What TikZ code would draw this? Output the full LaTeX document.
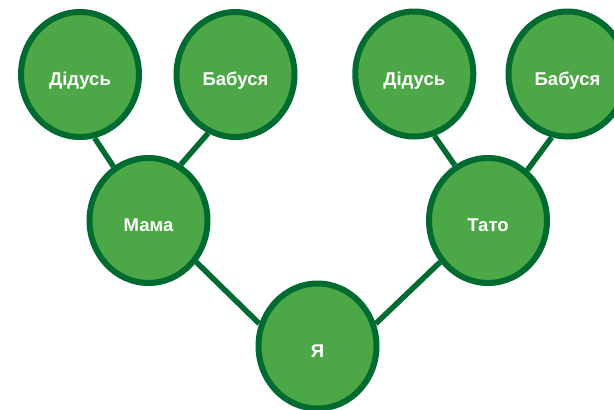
\documentclass[tikz,border=0pt]{standalone}
\usepackage{fontspec}
\setmainfont{Liberation Sans}
\usetikzlibrary{shapes.geometric}
\definecolor{leaf}{HTML}{4CA846}
\definecolor{rim}{HTML}{006B30}
\tikzset{
  person/.style={ellipse, draw=rim, fill=leaf, line width=6pt,
    minimum width=118pt, minimum height=125pt, inner sep=0pt,
    text=white, font=\bfseries\fontsize{18.5}{20}\selectfont,
    text height=22pt, text depth=0pt},
  link/.style={draw=rim, line width=5.5pt}
}
\begin{document}
\begin{tikzpicture}[x=1pt,y=-1pt]
\useasboundingbox (0,0) rectangle (614,410);
\node[person] (gpl) at (80,74.5) {Дідусь};
\node[person] (gml) at (235.5,74.5) {Бабуся};
\node[person] (mom) at (148.5,220.5) {Мама};
\node[person] (me)  at (317.5,346) {Я};
\node[person] (dad) at (488,220.5) {Тато};
\node[person] (gpr) at (414.3,74) {Дідусь};
\node[person] (gmr) at (567.5,74) {Бабуся};
\path[link] (gpl.-77) -- (mom.123);
\path[link] (gml.-115) -- (mom.60);
\path[link] (mom.-41) -- (me.159);
\path[link] (me.21) -- (dad.-139);
\path[link] (gpr.-72) -- (dad.121);
\path[link] (gmr.-104) -- (dad.52);
\end{tikzpicture}
\end{document}
